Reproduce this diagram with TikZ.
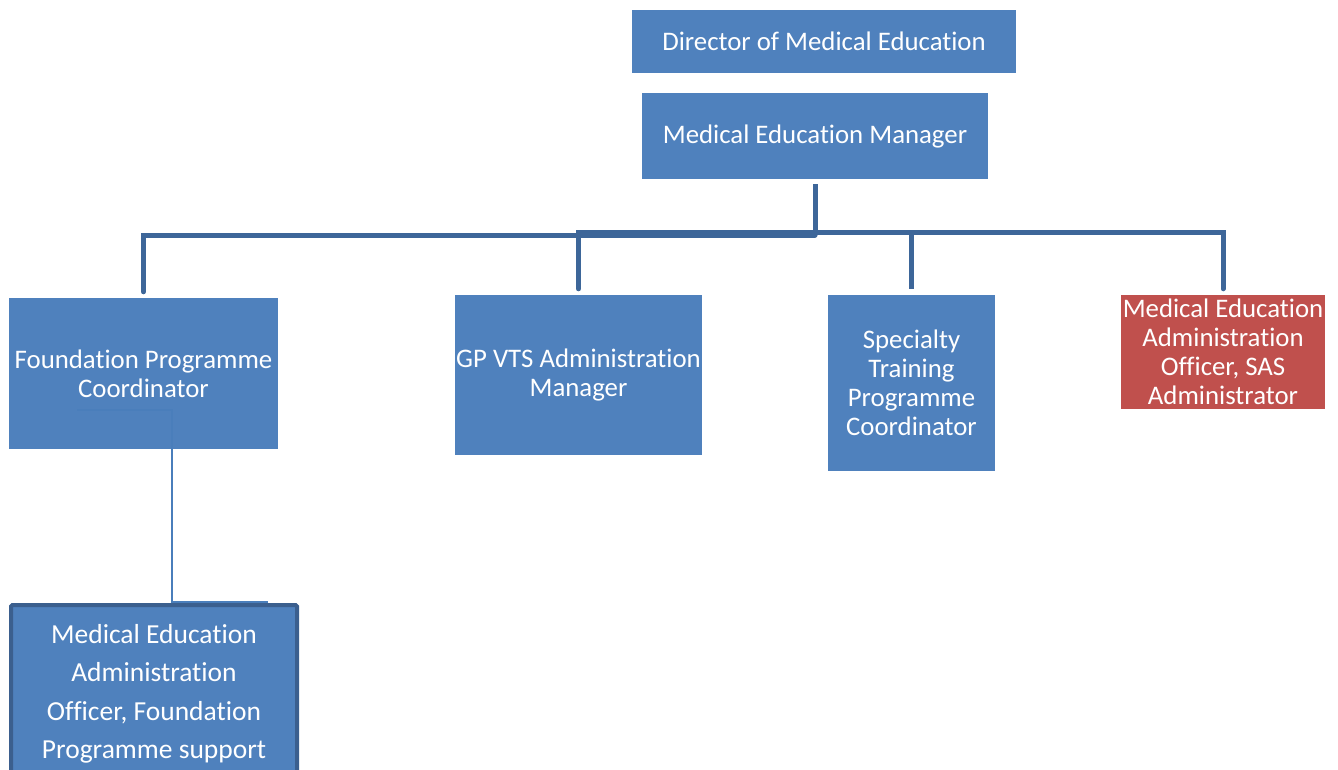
\documentclass[tikz,border=0pt]{standalone}
\usepackage{fontspec}
\setmainfont{Carlito}[Ligatures=NoCommon]
\definecolor{boxblue}{HTML}{4F81BD}
\definecolor{boxred}{HTML}{C0504D}
\definecolor{linkblue}{HTML}{3D6699}
\definecolor{edgeblue}{HTML}{3B5F8E}
\definecolor{thinblue}{HTML}{4A7EBB}
\begin{document}
\begin{tikzpicture}[x=1pt,y=-1pt,
  post/.style={fill=boxblue, draw=none, text=white, align=center, inner sep=0pt,
    font=\fontsize{26.8}{29}\selectfont},
  redpost/.style={post, fill=boxred},
  link/.style={draw=linkblue, line width=5pt},
  thinlink/.style={draw=thinblue, line width=1.4pt}]
\useasboundingbox (0,0) rectangle (1338,769);
\clip (0,0) rectangle (1338,769);

% boxes
\node[post, minimum width=384, minimum height=63] (dir) at (824,41.5) {Director of Medical Education};
\node[post, minimum width=346, minimum height=86] (mgr) at (815,136) {Medical Education Manager};
\node[post, minimum width=269, minimum height=151] (fpc) at (143.5,373.5) {Foundation Programme\\Coordinator};
\node[post, minimum width=247, minimum height=160] (gp) at (578.5,375) {GP VTS Administration\\Manager};
\node[post, minimum width=167, minimum height=176] (stp) at (911.5,383) {Specialty\\Training\\Programme\\Coordinator};
\node[redpost, minimum width=204, minimum height=114] (sas) at (1223,352) {Medical Education\\Administration\\Officer, SAS\\Administrator};
\node[post, draw=edgeblue, line width=4pt, rounded corners=1.5pt, minimum width=286, minimum height=200,
  anchor=north] (fps) at (154,603) {};
\node[text=white, align=center, anchor=north, inner sep=0pt,
  font=\fontsize{27.5}{38.5}\selectfont] (fpstext) at (154,624)
  {Medical Education\\Administration\\Officer, Foundation\\Programme support};

% reporting lines
\coordinate (hubL) at (mgr.south |- 0,235);
\coordinate (hubR) at (mgr.south |- 0,232);
\draw[link] ([yshift=-5pt]mgr.south) -- (hubL);
\draw[link, line cap=round] ([yshift=6pt]fpc.north) |- (hubL);
\draw[link, line cap=round] ([yshift=6pt]gp.north) |- (hubR) -| ([yshift=6pt]sas.north);
\draw[link] ([yshift=6pt]stp.north) -- (stp.north |- hubR);

% link to the foundation support post
\coordinate (fpcIn) at (77,410);
\coordinate (fpsEnd) at (268,602);
\draw[thinlink] (fpcIn) -- (172,410) -- (172 ,602) -- (fpsEnd);
\end{tikzpicture}
\end{document}
